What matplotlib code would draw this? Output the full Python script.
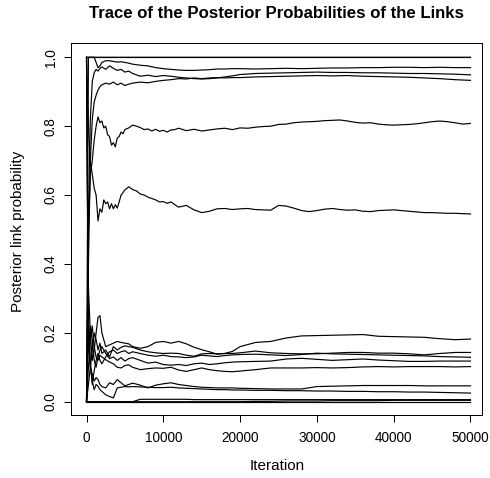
import matplotlib
matplotlib.use("Agg")
import matplotlib.pyplot as plt

iterations = [1, 250, 500, 750, 1000, 1250, 1500, 1750, 2000, 2500, 3000, 3500,
              4000, 4500, 5000, 5500, 6000, 7000, 8000, 9000, 10000, 11000, 12000,
              13000, 14000, 15000, 16000, 17000, 18000, 19000, 20000, 22000, 24000,
              26000, 28000, 30000, 32000, 34000, 36000, 38000, 40000, 42000, 44000,
              46000, 48000, 50000]

# denser reading for the two middle links, which wobble more
iterations_mid = [1, 250, 500, 750, 1000, 1250, 1500, 1750, 2000, 2250, 2500, 2750,
                  3000, 3250, 3500, 3750, 4000, 4250, 4500, 4750, 5000,
                  5500, 6000, 6500, 7000, 7500, 8000, 8500, 9000, 9500, 10000,
                  10500, 11000, 11500, 12000,
                  13000, 14000, 15000, 16000, 17000, 18000, 19000, 20000, 21000,
                  22000, 23000, 24000, 25000, 26000, 27000, 28000, 29000, 30000,
                  31000, 32000, 33000, 34000, 35000, 36000, 37000, 38000, 39000,
                  40000, 41000, 42000, 43000, 44000, 45000, 46000, 47000, 48000,
                  49000, 50000]

link_a = [1.0] * 46
link_b = [0.0] + [1.0] * 45
link_c = [1.0, 1.0, 1.0, 1.0, 1.0, 0.985, 0.97, 0.975, 0.985, 0.99, 0.99, 0.988,
          0.986, 0.987, 0.985, 0.983, 0.98, 0.977, 0.975, 0.97, 0.967, 0.965, 0.963,
          0.962, 0.962, 0.963, 0.964, 0.966, 0.966, 0.967, 0.967, 0.966, 0.967, 0.968,
          0.967, 0.968, 0.969, 0.969, 0.970, 0.970, 0.971, 0.971, 0.970, 0.971, 0.970, 0.970]
link_d = [0.0, 0.55, 0.82, 0.93, 0.955, 0.965, 0.96, 0.968, 0.972, 0.965, 0.975, 0.968,
          0.962, 0.965, 0.957, 0.96, 0.953, 0.945, 0.948, 0.944, 0.947, 0.945, 0.942,
          0.94, 0.938, 0.937, 0.938, 0.94, 0.943, 0.946, 0.95, 0.953, 0.954, 0.955,
          0.956, 0.957, 0.956, 0.956, 0.955, 0.955, 0.954, 0.953, 0.953, 0.952, 0.951, 0.949]
link_e = [0.0, 0.4, 0.7, 0.82, 0.87, 0.89, 0.905, 0.915, 0.92, 0.925, 0.922, 0.928,
          0.92, 0.925, 0.918, 0.922, 0.925, 0.928, 0.926, 0.93, 0.933, 0.935, 0.938,
          0.937, 0.94, 0.938, 0.94, 0.941, 0.94, 0.941, 0.941, 0.943, 0.944, 0.945,
          0.946, 0.947, 0.946, 0.947, 0.945, 0.944, 0.943, 0.942, 0.94, 0.938, 0.935, 0.933]
link_f = [0.0, 0.5, 0.66, 0.7, 0.76, 0.8, 0.827, 0.81, 0.815, 0.795, 0.8, 0.775,
          0.77, 0.745, 0.752, 0.74, 0.765, 0.77, 0.783, 0.778, 0.79,
          0.795, 0.803, 0.8, 0.796, 0.79, 0.792, 0.786, 0.791, 0.785, 0.788,
          0.783, 0.789, 0.79, 0.794,
          0.787, 0.791, 0.786, 0.789, 0.792, 0.794, 0.79, 0.795, 0.794,
          0.797, 0.799, 0.8, 0.805, 0.806, 0.81, 0.812, 0.813, 0.814,
          0.816, 0.817, 0.818, 0.815, 0.811, 0.809, 0.81, 0.806, 0.804,
          0.803, 0.804, 0.805, 0.807, 0.81, 0.813, 0.815, 0.813, 0.81,
          0.806, 0.808]
link_g = [1.0, 0.8, 0.7, 0.66, 0.62, 0.6, 0.525, 0.56, 0.55, 0.586, 0.575, 0.58,
          0.56, 0.575, 0.56, 0.572, 0.562, 0.58, 0.6, 0.607, 0.615,
          0.624, 0.616, 0.612, 0.603, 0.6, 0.594, 0.59, 0.586, 0.58, 0.581,
          0.576, 0.58, 0.572, 0.565,
          0.57, 0.557, 0.549, 0.553, 0.56, 0.561, 0.558, 0.56, 0.561,
          0.558, 0.557, 0.556, 0.57, 0.568, 0.562, 0.555, 0.552, 0.555,
          0.559, 0.561, 0.558, 0.556, 0.557, 0.553, 0.552, 0.555, 0.556,
          0.557, 0.555, 0.553, 0.551, 0.549, 0.549, 0.548, 0.547, 0.547,
          0.546, 0.545]
link_h = [0.0, 0.33, 0.2, 0.12, 0.15, 0.2, 0.245, 0.25, 0.2, 0.16, 0.165, 0.17,
          0.175, 0.172, 0.17, 0.168, 0.16, 0.155, 0.16, 0.172, 0.175, 0.17, 0.175,
          0.168, 0.158, 0.151, 0.145, 0.138, 0.14, 0.146, 0.16, 0.172, 0.175, 0.185,
          0.191, 0.192, 0.193, 0.194, 0.195, 0.19, 0.189, 0.188, 0.187, 0.183, 0.18, 0.182]
link_i = [1.0, 0.2, 0.1, 0.15, 0.2, 0.18, 0.15, 0.17, 0.14, 0.15, 0.13, 0.16,
          0.15, 0.158, 0.162, 0.16, 0.158, 0.15, 0.145, 0.142, 0.14, 0.141, 0.14,
          0.135, 0.132, 0.139, 0.14, 0.139, 0.14, 0.14, 0.142, 0.147, 0.142, 0.14,
          0.139, 0.139, 0.141, 0.143, 0.143, 0.141, 0.141, 0.139, 0.136, 0.14, 0.143, 0.143]
link_j = [0.0, 0.25, 0.12, 0.05, 0.09, 0.12, 0.14, 0.12, 0.11, 0.13, 0.145, 0.15,
          0.14, 0.145, 0.148, 0.14, 0.145, 0.14, 0.135, 0.132, 0.135, 0.131, 0.13,
          0.128, 0.13, 0.135, 0.133, 0.131, 0.134, 0.136, 0.137, 0.138, 0.136, 0.134,
          0.137, 0.141, 0.139, 0.138, 0.137, 0.136, 0.135, 0.134, 0.133, 0.131, 0.13, 0.129]
link_k = [1.0, 0.15, 0.22, 0.18, 0.12, 0.1, 0.13, 0.15, 0.16, 0.14, 0.125, 0.13,
          0.12, 0.128, 0.118, 0.125, 0.128, 0.12, 0.112, 0.115, 0.108, 0.106, 0.108,
          0.105, 0.11, 0.112, 0.108, 0.11, 0.113, 0.115, 0.116, 0.117, 0.118, 0.124,
          0.126, 0.123, 0.12, 0.122, 0.124, 0.121, 0.119, 0.117, 0.117, 0.118, 0.118, 0.118]
link_l = [0.0, 0.1, 0.18, 0.22, 0.16, 0.13, 0.12, 0.135, 0.13, 0.122, 0.115, 0.11,
          0.1, 0.098, 0.105, 0.107, 0.1, 0.093, 0.096, 0.098, 0.097, 0.1, 0.092,
          0.088, 0.093, 0.098, 0.093, 0.09, 0.088, 0.087, 0.089, 0.093, 0.098, 0.098,
          0.098, 0.099, 0.098, 0.099, 0.101, 0.102, 0.101, 0.102, 0.102, 0.102, 0.101, 0.102]
link_m = [0.0, 0.05, 0.1, 0.08, 0.06, 0.07, 0.064, 0.05, 0.044, 0.04, 0.055, 0.05,
          0.064, 0.055, 0.046, 0.05, 0.054, 0.048, 0.04, 0.048, 0.052, 0.055, 0.05,
          0.047, 0.044, 0.042, 0.041, 0.04, 0.04, 0.04, 0.039, 0.038, 0.037, 0.037,
          0.037, 0.044, 0.045, 0.046, 0.047, 0.047, 0.047, 0.047, 0.046, 0.046, 0.046, 0.046]
link_n = [1.0, 0.15, 0.1, 0.06, 0.035, 0.05, 0.045, 0.035, 0.03, 0.02, 0.015, 0.011,
          0.04, 0.042, 0.044, 0.043, 0.044, 0.043, 0.042, 0.041, 0.041, 0.042, 0.04,
          0.039, 0.038, 0.037, 0.036, 0.035, 0.035, 0.034, 0.034, 0.033, 0.033, 0.032,
          0.032, 0.031, 0.031, 0.03, 0.03, 0.029, 0.029, 0.028, 0.028, 0.027, 0.026, 0.025]
link_o = [0.0] * 17 + [0.007, 0.007, 0.007, 0.007, 0.007, 0.007, 0.007, 0.006, 0.006,
          0.006, 0.006, 0.006, 0.006, 0.006, 0.006, 0.006, 0.006, 0.006, 0.006, 0.006,
          0.006, 0.006, 0.006, 0.006, 0.006, 0.006, 0.006, 0.006, 0.006]
link_p = [0.0] * 31 + [0.001, 0.001, 0.002, 0.002, 0.002, 0.003, 0.003, 0.003, 0.003,
          0.004, 0.004, 0.004, 0.004, 0.004, 0.004]
link_q = [0.0] * 46

traces = [link_a, link_b, link_c, link_d, link_e, link_h, link_i, link_j, link_k,
          link_l, link_m, link_n, link_o, link_p, link_q]
traces_mid = [link_f, link_g]

plt.rcParams['font.family'] = ['Liberation Sans', 'DejaVu Sans']

W, H = 490, 478
fig = plt.figure(figsize=(W / 100, H / 100), dpi=100)
ax = fig.add_axes([71 / W, 1 - 415 / H, (482 - 71) / W, (415 - 43) / H])

for tr in traces:
    ax.plot(iterations, tr, color='black', linewidth=0.85)
for tr in traces_mid:
    ax.plot(iterations_mid, tr, color='black', linewidth=0.85)

ax.set_xlim(-2020, 51500)
ax.set_ylim(-0.0386, 1.0415)
ax.set_xticks([0, 10000, 20000, 30000, 40000, 50000])
ax.set_xticklabels(['0', '10000', '20000', '30000', '40000', '50000'])
ax.set_yticks([0.0, 0.2, 0.4, 0.6, 0.8, 1.0])
ax.set_yticklabels(['0.0', '0.2', '0.4', '0.6', '0.8', '1.0'], rotation=90, va='center')
ax.tick_params(direction='out', length=5, width=0.72, labelsize=9.8, colors='black')
ax.tick_params(axis='x', pad=6.5)
ax.tick_params(axis='y', pad=4.5)
for s in ax.spines.values():
    s.set_linewidth(0.72)

fig.text(276.5 / W, 1 - 14 / H, 'Trace of the Posterior Probabilities of the Links',
         ha='center', va='center', fontsize=12.1, fontweight='bold')
fig.text(277 / W, 1 - 466 / H, 'Iteration', ha='center', va='center', fontsize=11)
fig.text(18 / W, 1 - 231 / H, 'Posterior link probability', ha='center', va='center',
         rotation=90, fontsize=11)

fig.savefig('out.png', dpi=100)
